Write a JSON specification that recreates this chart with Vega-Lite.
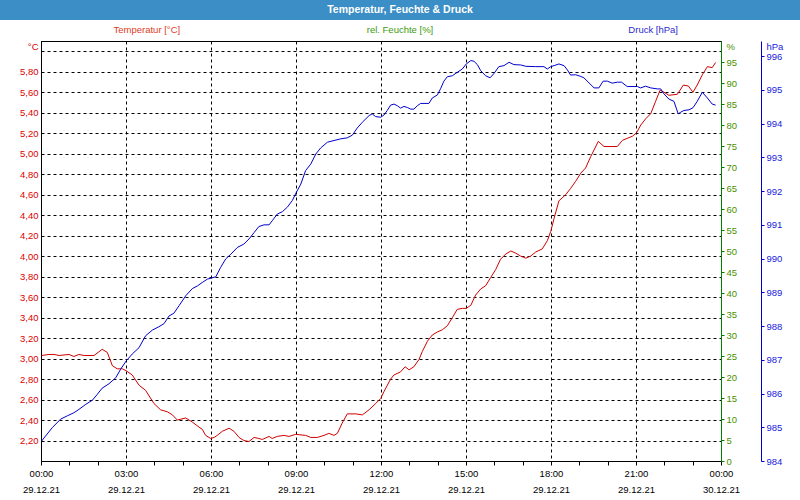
{
  "$schema": "https://vega.github.io/schema/vega-lite/v6.json",
  "padding": 0,
  "background": "white",
  "spacing": 0,
  "config": {"font": "Liberation Sans", "view": {"stroke": null}, "concat": {"spacing": 0}},
  "datasets": {
    "titel": [{"text": "Temperatur, Feuchte & Druck"}],
    "legende": [{"reihe": "Temperatur [°C]"}, {"reihe": "rel. Feuchte [%]"}, {"reihe": "Druck [hPa]"}],
    "feuchte": [],
    "temp": [
      {"stunde": 0.02, "temperatur": 3.03}, {"stunde": 0.28, "temperatur": 3.04}, {"stunde": 0.46, "temperatur": 3.04}, {"stunde": 0.64, "temperatur": 3.03}, {"stunde": 0.99, "temperatur": 3.04}, {"stunde": 1.16, "temperatur": 3.02}, {"stunde": 1.34, "temperatur": 3.04}, {"stunde": 1.52, "temperatur": 3.03}, {"stunde": 1.87, "temperatur": 3.03}, {"stunde": 2.16, "temperatur": 3.09}, {"stunde": 2.34, "temperatur": 3.06}, {"stunde": 2.52, "temperatur": 2.93}, {"stunde": 2.69, "temperatur": 2.9}, {"stunde": 2.87, "temperatur": 2.9}, {"stunde": 3.01, "temperatur": 2.88}, {"stunde": 3.22, "temperatur": 2.84}, {"stunde": 3.46, "temperatur": 2.74}, {"stunde": 3.69, "temperatur": 2.69}, {"stunde": 3.99, "temperatur": 2.56}, {"stunde": 4.22, "temperatur": 2.5}, {"stunde": 4.46, "temperatur": 2.48}, {"stunde": 4.64, "temperatur": 2.45}, {"stunde": 4.81, "temperatur": 2.4}, {"stunde": 5.11, "temperatur": 2.42}, {"stunde": 5.34, "temperatur": 2.38}, {"stunde": 5.58, "temperatur": 2.33}, {"stunde": 5.69, "temperatur": 2.31}, {"stunde": 5.81, "temperatur": 2.25}, {"stunde": 5.99, "temperatur": 2.22}, {"stunde": 6.11, "temperatur": 2.23}, {"stunde": 6.22, "temperatur": 2.25}, {"stunde": 6.4, "temperatur": 2.29}, {"stunde": 6.64, "temperatur": 2.32}, {"stunde": 6.81, "temperatur": 2.29}, {"stunde": 6.99, "temperatur": 2.23}, {"stunde": 7.16, "temperatur": 2.2}, {"stunde": 7.34, "temperatur": 2.19}, {"stunde": 7.52, "temperatur": 2.23}, {"stunde": 7.69, "temperatur": 2.22}, {"stunde": 7.81, "temperatur": 2.21}, {"stunde": 8.05, "temperatur": 2.24}, {"stunde": 8.16, "temperatur": 2.22}, {"stunde": 8.34, "temperatur": 2.24}, {"stunde": 8.58, "temperatur": 2.25}, {"stunde": 8.75, "temperatur": 2.24}, {"stunde": 8.99, "temperatur": 2.26}, {"stunde": 9.34, "temperatur": 2.25}, {"stunde": 9.52, "temperatur": 2.23}, {"stunde": 9.75, "temperatur": 2.23}, {"stunde": 9.99, "temperatur": 2.25}, {"stunde": 10.16, "temperatur": 2.27}, {"stunde": 10.34, "temperatur": 2.25}, {"stunde": 10.46, "temperatur": 2.27}, {"stunde": 10.63, "temperatur": 2.37}, {"stunde": 10.81, "temperatur": 2.46}, {"stunde": 11.11, "temperatur": 2.46}, {"stunde": 11.34, "temperatur": 2.45}, {"stunde": 11.58, "temperatur": 2.5}, {"stunde": 11.81, "temperatur": 2.56}, {"stunde": 11.99, "temperatur": 2.61}, {"stunde": 12.11, "temperatur": 2.68}, {"stunde": 12.34, "temperatur": 2.8}, {"stunde": 12.46, "temperatur": 2.84}, {"stunde": 12.69, "temperatur": 2.87}, {"stunde": 12.85, "temperatur": 2.92}, {"stunde": 12.99, "temperatur": 2.89}, {"stunde": 13.16, "temperatur": 2.92}, {"stunde": 13.34, "temperatur": 2.99}, {"stunde": 13.46, "temperatur": 3.07}, {"stunde": 13.64, "temperatur": 3.17}, {"stunde": 13.81, "temperatur": 3.23}, {"stunde": 13.99, "temperatur": 3.26}, {"stunde": 14.16, "temperatur": 3.28}, {"stunde": 14.34, "temperatur": 3.32}, {"stunde": 14.52, "temperatur": 3.4}, {"stunde": 14.69, "temperatur": 3.48}, {"stunde": 14.87, "temperatur": 3.49}, {"stunde": 15.01, "temperatur": 3.49}, {"stunde": 15.17, "temperatur": 3.52}, {"stunde": 15.34, "temperatur": 3.62}, {"stunde": 15.52, "temperatur": 3.68}, {"stunde": 15.69, "temperatur": 3.71}, {"stunde": 15.87, "temperatur": 3.79}, {"stunde": 16.05, "temperatur": 3.87}, {"stunde": 16.22, "temperatur": 3.97}, {"stunde": 16.4, "temperatur": 4.02}, {"stunde": 16.58, "temperatur": 4.05}, {"stunde": 16.75, "temperatur": 4.03}, {"stunde": 16.93, "temperatur": 4.0}, {"stunde": 17.11, "temperatur": 3.98}, {"stunde": 17.28, "temperatur": 4.0}, {"stunde": 17.46, "temperatur": 4.04}, {"stunde": 17.69, "temperatur": 4.07}, {"stunde": 17.87, "temperatur": 4.15}, {"stunde": 17.99, "temperatur": 4.24}, {"stunde": 18.11, "temperatur": 4.37}, {"stunde": 18.28, "temperatur": 4.54}, {"stunde": 18.52, "temperatur": 4.6}, {"stunde": 18.69, "temperatur": 4.66}, {"stunde": 18.87, "temperatur": 4.73}, {"stunde": 19.05, "temperatur": 4.81}, {"stunde": 19.22, "temperatur": 4.86}, {"stunde": 19.4, "temperatur": 4.97}, {"stunde": 19.67, "temperatur": 5.12}, {"stunde": 19.87, "temperatur": 5.07}, {"stunde": 20.34, "temperatur": 5.07}, {"stunde": 20.52, "temperatur": 5.13}, {"stunde": 20.69, "temperatur": 5.15}, {"stunde": 20.87, "temperatur": 5.17}, {"stunde": 21.01, "temperatur": 5.2}, {"stunde": 21.17, "temperatur": 5.28}, {"stunde": 21.34, "temperatur": 5.34}, {"stunde": 21.52, "temperatur": 5.39}, {"stunde": 21.69, "temperatur": 5.51}, {"stunde": 21.85, "temperatur": 5.62}, {"stunde": 21.99, "temperatur": 5.6}, {"stunde": 22.16, "temperatur": 5.57}, {"stunde": 22.46, "temperatur": 5.58}, {"stunde": 22.67, "temperatur": 5.67}, {"stunde": 22.85, "temperatur": 5.66}, {"stunde": 23.01, "temperatur": 5.6}, {"stunde": 23.16, "temperatur": 5.67}, {"stunde": 23.34, "temperatur": 5.77}, {"stunde": 23.52, "temperatur": 5.85}, {"stunde": 23.69, "temperatur": 5.84}, {"stunde": 23.81, "temperatur": 5.89}
    ],
    "druck": [
      {"stunde": 0.02, "druck": 984.59}, {"stunde": 0.16, "druck": 984.74}, {"stunde": 0.4, "druck": 984.99}, {"stunde": 0.69, "druck": 985.24}, {"stunde": 0.93, "druck": 985.34}, {"stunde": 1.16, "druck": 985.43}, {"stunde": 1.34, "druck": 985.53}, {"stunde": 1.58, "druck": 985.68}, {"stunde": 1.81, "druck": 985.8}, {"stunde": 1.99, "druck": 985.98}, {"stunde": 2.16, "druck": 986.16}, {"stunde": 2.4, "druck": 986.29}, {"stunde": 2.64, "druck": 986.47}, {"stunde": 2.81, "druck": 986.72}, {"stunde": 3.01, "druck": 986.97}, {"stunde": 3.22, "druck": 987.17}, {"stunde": 3.46, "druck": 987.36}, {"stunde": 3.69, "druck": 987.71}, {"stunde": 3.93, "druck": 987.88}, {"stunde": 4.16, "druck": 987.98}, {"stunde": 4.34, "druck": 988.07}, {"stunde": 4.52, "druck": 988.3}, {"stunde": 4.69, "druck": 988.38}, {"stunde": 4.87, "druck": 988.6}, {"stunde": 5.11, "druck": 988.9}, {"stunde": 5.34, "druck": 989.11}, {"stunde": 5.52, "druck": 989.19}, {"stunde": 5.69, "druck": 989.29}, {"stunde": 5.87, "druck": 989.39}, {"stunde": 6.17, "druck": 989.46}, {"stunde": 6.34, "druck": 989.74}, {"stunde": 6.52, "druck": 989.99}, {"stunde": 6.7, "druck": 990.13}, {"stunde": 6.93, "druck": 990.33}, {"stunde": 7.16, "druck": 990.43}, {"stunde": 7.34, "druck": 990.58}, {"stunde": 7.52, "druck": 990.77}, {"stunde": 7.69, "druck": 990.95}, {"stunde": 7.87, "druck": 991.0}, {"stunde": 8.05, "druck": 991.0}, {"stunde": 8.16, "druck": 991.12}, {"stunde": 8.34, "druck": 991.32}, {"stunde": 8.52, "druck": 991.39}, {"stunde": 8.69, "druck": 991.52}, {"stunde": 8.87, "druck": 991.72}, {"stunde": 9.01, "druck": 991.96}, {"stunde": 9.17, "druck": 992.21}, {"stunde": 9.34, "druck": 992.61}, {"stunde": 9.52, "druck": 992.8}, {"stunde": 9.7, "druck": 993.1}, {"stunde": 9.87, "druck": 993.28}, {"stunde": 10.11, "druck": 993.45}, {"stunde": 10.34, "druck": 993.5}, {"stunde": 10.58, "druck": 993.55}, {"stunde": 10.81, "druck": 993.58}, {"stunde": 10.99, "druck": 993.66}, {"stunde": 11.16, "druck": 993.87}, {"stunde": 11.34, "druck": 994.04}, {"stunde": 11.58, "druck": 994.24}, {"stunde": 11.69, "druck": 994.29}, {"stunde": 11.81, "druck": 994.21}, {"stunde": 11.99, "druck": 994.19}, {"stunde": 12.11, "druck": 994.26}, {"stunde": 12.22, "druck": 994.39}, {"stunde": 12.34, "druck": 994.55}, {"stunde": 12.46, "druck": 994.58}, {"stunde": 12.58, "druck": 994.53}, {"stunde": 12.69, "druck": 994.46}, {"stunde": 12.81, "druck": 994.51}, {"stunde": 12.93, "druck": 994.48}, {"stunde": 13.05, "druck": 994.43}, {"stunde": 13.16, "druck": 994.43}, {"stunde": 13.28, "druck": 994.53}, {"stunde": 13.4, "druck": 994.6}, {"stunde": 13.69, "druck": 994.6}, {"stunde": 13.81, "druck": 994.76}, {"stunde": 13.99, "druck": 994.85}, {"stunde": 14.11, "druck": 995.05}, {"stunde": 14.22, "druck": 995.26}, {"stunde": 14.34, "druck": 995.39}, {"stunde": 14.52, "druck": 995.42}, {"stunde": 14.69, "druck": 995.52}, {"stunde": 14.87, "druck": 995.62}, {"stunde": 15.01, "druck": 995.77}, {"stunde": 15.17, "druck": 995.87}, {"stunde": 15.28, "druck": 995.85}, {"stunde": 15.4, "druck": 995.75}, {"stunde": 15.52, "druck": 995.57}, {"stunde": 15.69, "druck": 995.42}, {"stunde": 15.85, "druck": 995.36}, {"stunde": 15.99, "druck": 995.49}, {"stunde": 16.16, "druck": 995.69}, {"stunde": 16.34, "druck": 995.72}, {"stunde": 16.52, "druck": 995.82}, {"stunde": 16.69, "druck": 995.75}, {"stunde": 16.93, "druck": 995.74}, {"stunde": 17.11, "druck": 995.7}, {"stunde": 17.46, "druck": 995.69}, {"stunde": 17.75, "druck": 995.69}, {"stunde": 17.87, "druck": 995.62}, {"stunde": 17.99, "druck": 995.69}, {"stunde": 18.11, "druck": 995.72}, {"stunde": 18.28, "druck": 995.77}, {"stunde": 18.46, "druck": 995.72}, {"stunde": 18.58, "druck": 995.59}, {"stunde": 18.69, "druck": 995.44}, {"stunde": 18.87, "druck": 995.45}, {"stunde": 19.05, "druck": 995.4}, {"stunde": 19.16, "druck": 995.36}, {"stunde": 19.34, "druck": 995.21}, {"stunde": 19.52, "druck": 995.06}, {"stunde": 19.69, "druck": 995.06}, {"stunde": 19.84, "druck": 995.26}, {"stunde": 19.99, "druck": 995.26}, {"stunde": 20.16, "druck": 995.2}, {"stunde": 20.34, "druck": 995.23}, {"stunde": 20.49, "druck": 995.23}, {"stunde": 20.69, "druck": 995.1}, {"stunde": 21.05, "druck": 995.1}, {"stunde": 21.16, "druck": 995.06}, {"stunde": 21.34, "druck": 995.11}, {"stunde": 21.52, "druck": 995.06}, {"stunde": 21.75, "druck": 995.03}, {"stunde": 21.87, "druck": 995.03}, {"stunde": 21.99, "druck": 994.88}, {"stunde": 22.16, "druck": 994.73}, {"stunde": 22.34, "druck": 994.66}, {"stunde": 22.49, "druck": 994.29}, {"stunde": 22.58, "druck": 994.34}, {"stunde": 22.69, "druck": 994.39}, {"stunde": 22.87, "druck": 994.41}, {"stunde": 23.01, "druck": 994.47}, {"stunde": 23.16, "druck": 994.66}, {"stunde": 23.34, "druck": 994.93}, {"stunde": 23.52, "druck": 994.76}, {"stunde": 23.69, "druck": 994.58}, {"stunde": 23.81, "druck": 994.55}
    ]
  },
  "vconcat": [
    {
      "width": 800,
      "height": 20,
      "view": {"fill": "#3b8ec6", "stroke": null},
      "data": {"name": "titel"},
      "mark": {"type": "text", "color": "white", "fontWeight": "bold", "fontSize": 10.5, "baseline": "middle", "align": "center"},
      "encoding": {"text": {"field": "text", "type": "nominal"}}
    },
    {
      "width": 800,
      "height": 20,
      "view": {"stroke": null},
      "data": {"name": "legende"},
      "mark": {"type": "text", "fontSize": 9.5, "baseline": "middle", "align": "center"},
      "encoding": {
        "x": {"field": "reihe", "type": "nominal", "sort": null, "scale": {"type": "band", "paddingInner": 0, "paddingOuter": 0.08}, "axis": null},
        "text": {"field": "reihe", "type": "nominal"},
        "color": {"field": "reihe", "type": "nominal", "legend": null,
          "scale": {"domain": ["Temperatur [°C]", "rel. Feuchte [%]", "Druck [hPa]"], "range": ["#e03c1e", "#3c9a10", "#2a2ad0"]}}
      }
    },
    {
      "spacing": 0,
      "hconcat": [
        {
          "width": 1,
          "height": 420,
          "view": {"stroke": null},
          "data": {"name": "feuchte"},
          "mark": {"type": "point", "opacity": 0}
        },
        {
          "width": 680,
          "height": 420,
          "view": {"stroke": "black", "strokeWidth": 1},
          "encoding": {
            "x": {
              "field": "stunde", "type": "quantitative",
              "scale": {"domain": [0, 24], "nice": false, "zero": false},
              "axis": {
                "title": null,
                "values": [0, 1, 2, 3, 4, 5, 6, 7, 8, 9, 10, 11, 12, 13, 14, 15, 16, 17, 18, 19, 20, 21, 22, 23, 24],
                "labelExpr": "datum.value % 3 == 0 ? [(datum.value % 24 < 10 ? '0' : '') + (datum.value % 24) + ':00', datum.value < 24 ? '29.12.21' : '30.12.21'] : ''",
                "labelFlush": false,
                "labelOverlap": false,
                "labelBound": false,
                "labelAngle": 0,
                "labelFontSize": 9.5,
                "labelColor": "black",
                "labelLineHeight": 16,
                "labelPadding": 3,
                "tickSize": 4,
                "tickColor": "black",
                "domainColor": "black",
                "grid": true,
                "gridColor": "black",
                "gridDash": [3, 3],
                "gridOpacity": {"condition": {"test": "datum.value % 3 == 0", "value": 1}, "value": 0}
              }
            }
          },
          "layer": [
            {
              "data": {"name": "temp"},
              "mark": {"type": "line", "color": "#d00000", "strokeWidth": 1},
              "encoding": {
                "y": {
                  "field": "temperatur", "type": "quantitative",
                  "scale": {"domain": [2.0, 6.1], "nice": false, "zero": false},
                  "axis": {
                    "orient": "left",
                    "values": [2.2, 2.4, 2.6, 2.8, 3.0, 3.2, 3.4, 3.6, 3.8, 4.0, 4.2, 4.4, 4.6, 4.8, 5.0, 5.2, 5.4, 5.6, 5.8, 6.0],
                    "labelExpr": "datum.value > 5.95 ? '' : replace(format(datum.value, '.2f'), '.', ',')",
                    "grid": true,
                    "gridColor": "black",
                    "gridDash": [3, 3],
                    "ticks": false,
                    "labelPadding": 3,
                    "labelFontSize": 9.5,
                    "labelColor": "#dd0000",
                    "domainColor": "black",
                    "title": "°C",
                    "titleColor": "#dd0000",
                    "titleFontSize": 9.5,
                    "titleFontWeight": "normal",
                    "titleAngle": 0,
                    "titleAlign": "right",
                    "titleBaseline": "top",
                    "titleX": -3,
                    "titleY": 0,
                    "minExtent": 39,
                    "maxExtent": 39
                  }
                }
              }
            },
            {
              "data": {"name": "feuchte"},
              "mark": {"type": "line", "color": "#008000", "strokeWidth": 1},
              "encoding": {
                "y": {
                  "field": "feuchte", "type": "quantitative",
                  "scale": {"domain": [0, 100], "nice": false},
                  "axis": {
                    "orient": "right",
                    "values": [0, 5, 10, 15, 20, 25, 30, 35, 40, 45, 50, 55, 60, 65, 70, 75, 80, 85, 90, 95],
                    "grid": false,
                    "domainColor": "#008000",
                    "tickColor": "#008000",
                    "tickSize": 3,
                    "labelPadding": 2,
                    "labelFontSize": 9.5,
                    "labelColor": "#4a9000",
                    "title": "%",
                    "titleColor": "#4a9000",
                    "titleFontSize": 9.5,
                    "titleFontWeight": "normal",
                    "titleAngle": 0,
                    "titleAlign": "left",
                    "titleBaseline": "top",
                    "titleX": 5,
                    "titleY": 0,
                    "zindex": 1
                  }
                }
              }
            },
            {
              "data": {"name": "druck"},
              "mark": {"type": "line", "color": "#0000d0", "strokeWidth": 1},
              "encoding": {
                "y": {
                  "field": "druck", "type": "quantitative",
                  "scale": {"domain": [984, 996.45], "nice": false, "zero": false},
                  "axis": {
                    "orient": "right",
                    "offset": 40,
                    "values": [984, 985, 986, 987, 988, 989, 990, 991, 992, 993, 994, 995, 996],
                    "grid": false,
                    "domainColor": "#0000cc",
                    "tickColor": "#0000cc",
                    "tickSize": 3,
                    "labelPadding": 2,
                    "labelFontSize": 9.5,
                    "labelColor": "#2020dd",
                    "title": "hPa",
                    "titleColor": "#2020dd",
                    "titleFontSize": 9.5,
                    "titleFontWeight": "normal",
                    "titleAngle": 0,
                    "titleAlign": "left",
                    "titleBaseline": "top",
                    "titleX": 5,
                    "titleY": 0,
                    "zindex": 1
                  }
                }
              }
            }
          ],
          "resolve": {"scale": {"y": "independent"}}
        }
      ]
    }
  ]
}
